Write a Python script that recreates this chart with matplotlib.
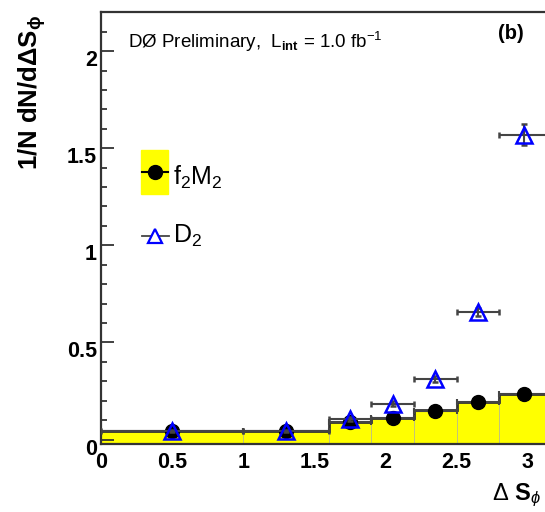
import matplotlib
matplotlib.use('Agg')
import matplotlib.pyplot as plt
import numpy as np
from matplotlib.patches import Rectangle
from matplotlib.lines import Line2D
import matplotlib.transforms as mtransforms

plt.rcParams['font.family'] = ['Liberation Sans', 'DejaVu Sans']
plt.rcParams['mathtext.fontset'] = 'custom'
plt.rcParams['mathtext.rm'] = 'Liberation Sans'
plt.rcParams['mathtext.it'] = 'Liberation Sans:italic'
plt.rcParams['mathtext.bf'] = 'Liberation Sans:bold'

# ---- data ----
bin_edges = [0.0, 1.0, 1.6, 1.9, 2.2, 2.5, 2.8, 3.1416]
f2m2_hist = [0.043, 0.043, 0.088, 0.110, 0.150, 0.192, 0.235]
f2m2_points = [0.043, 0.043, 0.088, 0.113, 0.148, 0.192, 0.235]
f2m2_err = [0.003, 0.003, 0.005, 0.006, 0.006, 0.007, 0.008]
d2_points = [0.045, 0.045, 0.105, 0.185, 0.310, 0.656, 1.570]
d2_err = [0.004, 0.004, 0.010, 0.012, 0.015, 0.020, 0.055]
x_ticks = [0, 0.5, 1, 1.5, 2, 2.5, 3]
x_tick_labels = ['0', '0.5', '1', '1.5', '2', '2.5', '3']
y_ticks = [0, 0.5, 1, 1.5, 2]
y_tick_labels = ['0', '0.5', '1', '1.5', '2']

W, H = 545, 512
fig = plt.figure(figsize=(W / 100, H / 100), dpi=100)
x0_px, x_scale = 101, 142.3
xmin, xmax = 0.0, 3.2
ymin, ymax = -0.023, 2.2
top_px, bot_px = 12.3, 444
ax = fig.add_axes([x0_px / W, 1 - bot_px / H, (xmax - xmin) * x_scale / W, (bot_px - top_px) / H])
ax.set_xlim(xmin, xmax)
ax.set_ylim(ymin, ymax)

edges = np.array(bin_edges)
centers = (edges[:-1] + edges[1:]) / 2
half = (edges[1:] - edges[:-1]) / 2
h = np.array(f2m2_hist)

ax.stairs(h, edges, baseline=ymin, fill=True, color='#ffff00', zorder=1)
ax.vlines(edges[1:-1], ymin, np.minimum(h[:-1], h[1:]), color='#b8b890', lw=0.6, zorder=1.5)
ax.stairs(h, edges, baseline=None, color='#333333', lw=2, zorder=2)

ax.errorbar(centers, f2m2_points, xerr=half, yerr=f2m2_err, fmt='o', color='black', ms=10,
            ecolor='#444444', elinewidth=1.5, capsize=2.5, capthick=1.5, zorder=3)
ax.errorbar(centers, d2_points, xerr=half, yerr=d2_err, fmt='^', mfc='none', mec='#0000ff', mew=1.8,
            ms=11, ecolor='#444444', elinewidth=1.5, capsize=2.5, capthick=1.5, zorder=4)

for s in ax.spines.values():
    s.set_color('#333333')
    s.set_linewidth(1.6)

ax.yaxis.set_major_locator(matplotlib.ticker.FixedLocator(y_ticks))
ax.yaxis.set_minor_locator(matplotlib.ticker.MultipleLocator(0.1))
ax.set_yticklabels(y_tick_labels, fontweight='bold')
ax.xaxis.set_major_locator(matplotlib.ticker.FixedLocator(x_ticks))
ax.xaxis.set_minor_locator(matplotlib.ticker.MultipleLocator(0.1))
ax.set_xticklabels(x_tick_labels, fontweight='bold')
ax.tick_params(which='both', direction='in', color='#333333', width=1.3)
ax.tick_params(which='major', length=9.4, labelsize=15.5)
ax.tick_params(which='minor', length=4.3)
ax.tick_params(axis='y', pad=3)
ax.tick_params(axis='x', pad=6)
ax.xaxis.set_zorder(0.5)

off = mtransforms.ScaledTranslation(0, -7 / 100, fig.dpi_scale_trans)
for t in ax.yaxis.get_major_ticks():
    t.label1.set_transform(t.label1.get_transform() + off)

# legend (figure pixel coordinates)
def fx(px):
    return px / W

def fy(py):
    return 1 - py / H

fig.patches.append(Rectangle((fx(141), fy(194)), 27 / W, 44 / H, transform=fig.transFigure,
                             color='#ffff00', zorder=5))
fig.lines.append(Line2D([fx(141.5), fx(168)], [fy(172), fy(172)], transform=fig.transFigure,
                        color='black', lw=1.5, zorder=6))
fig.lines.append(Line2D([fx(154.5)], [fy(172)], transform=fig.transFigure, marker='o',
                        color='black', ms=10, zorder=7))
fig.lines.append(Line2D([fx(141.5), fx(169)], [fy(236), fy(236)], transform=fig.transFigure,
                        color='#444444', lw=1.3, zorder=6))
fig.lines.append(Line2D([fx(155)], [fy(236)], transform=fig.transFigure, marker='^', mfc='white',
                        mec='#0000ff', mew=1.6, ms=10, zorder=7))
fig.text(fx(173), fy(185), r'f$_2$M$_2$', fontsize=18, ha='left', va='baseline')
fig.text(fx(173), fy(243), r'D$_2$', fontsize=18, ha='left', va='baseline')

fig.text(fx(128), fy(48), r'DØ Preliminary,  L$_{\mathbf{int}}$ = 1.0 fb$^{-1}$', fontsize=13.5,
         ha='left', va='baseline')
fig.text(fx(511), fy(39), '(b)', fontsize=14.5, fontweight='bold', ha='center', va='baseline')

fig.text(fx(32), fy(15), r'$\mathbf{1/N\ dN/d\Delta S_{\phi}}$', rotation=90, ha='center', va='top',
         fontsize=18.5)
fig.text(fx(541), fy(500), r'$\Delta\ \mathbf{S}_{\phi}$', ha='right', va='baseline', fontsize=17)

fig.savefig('out.png', dpi=100)
